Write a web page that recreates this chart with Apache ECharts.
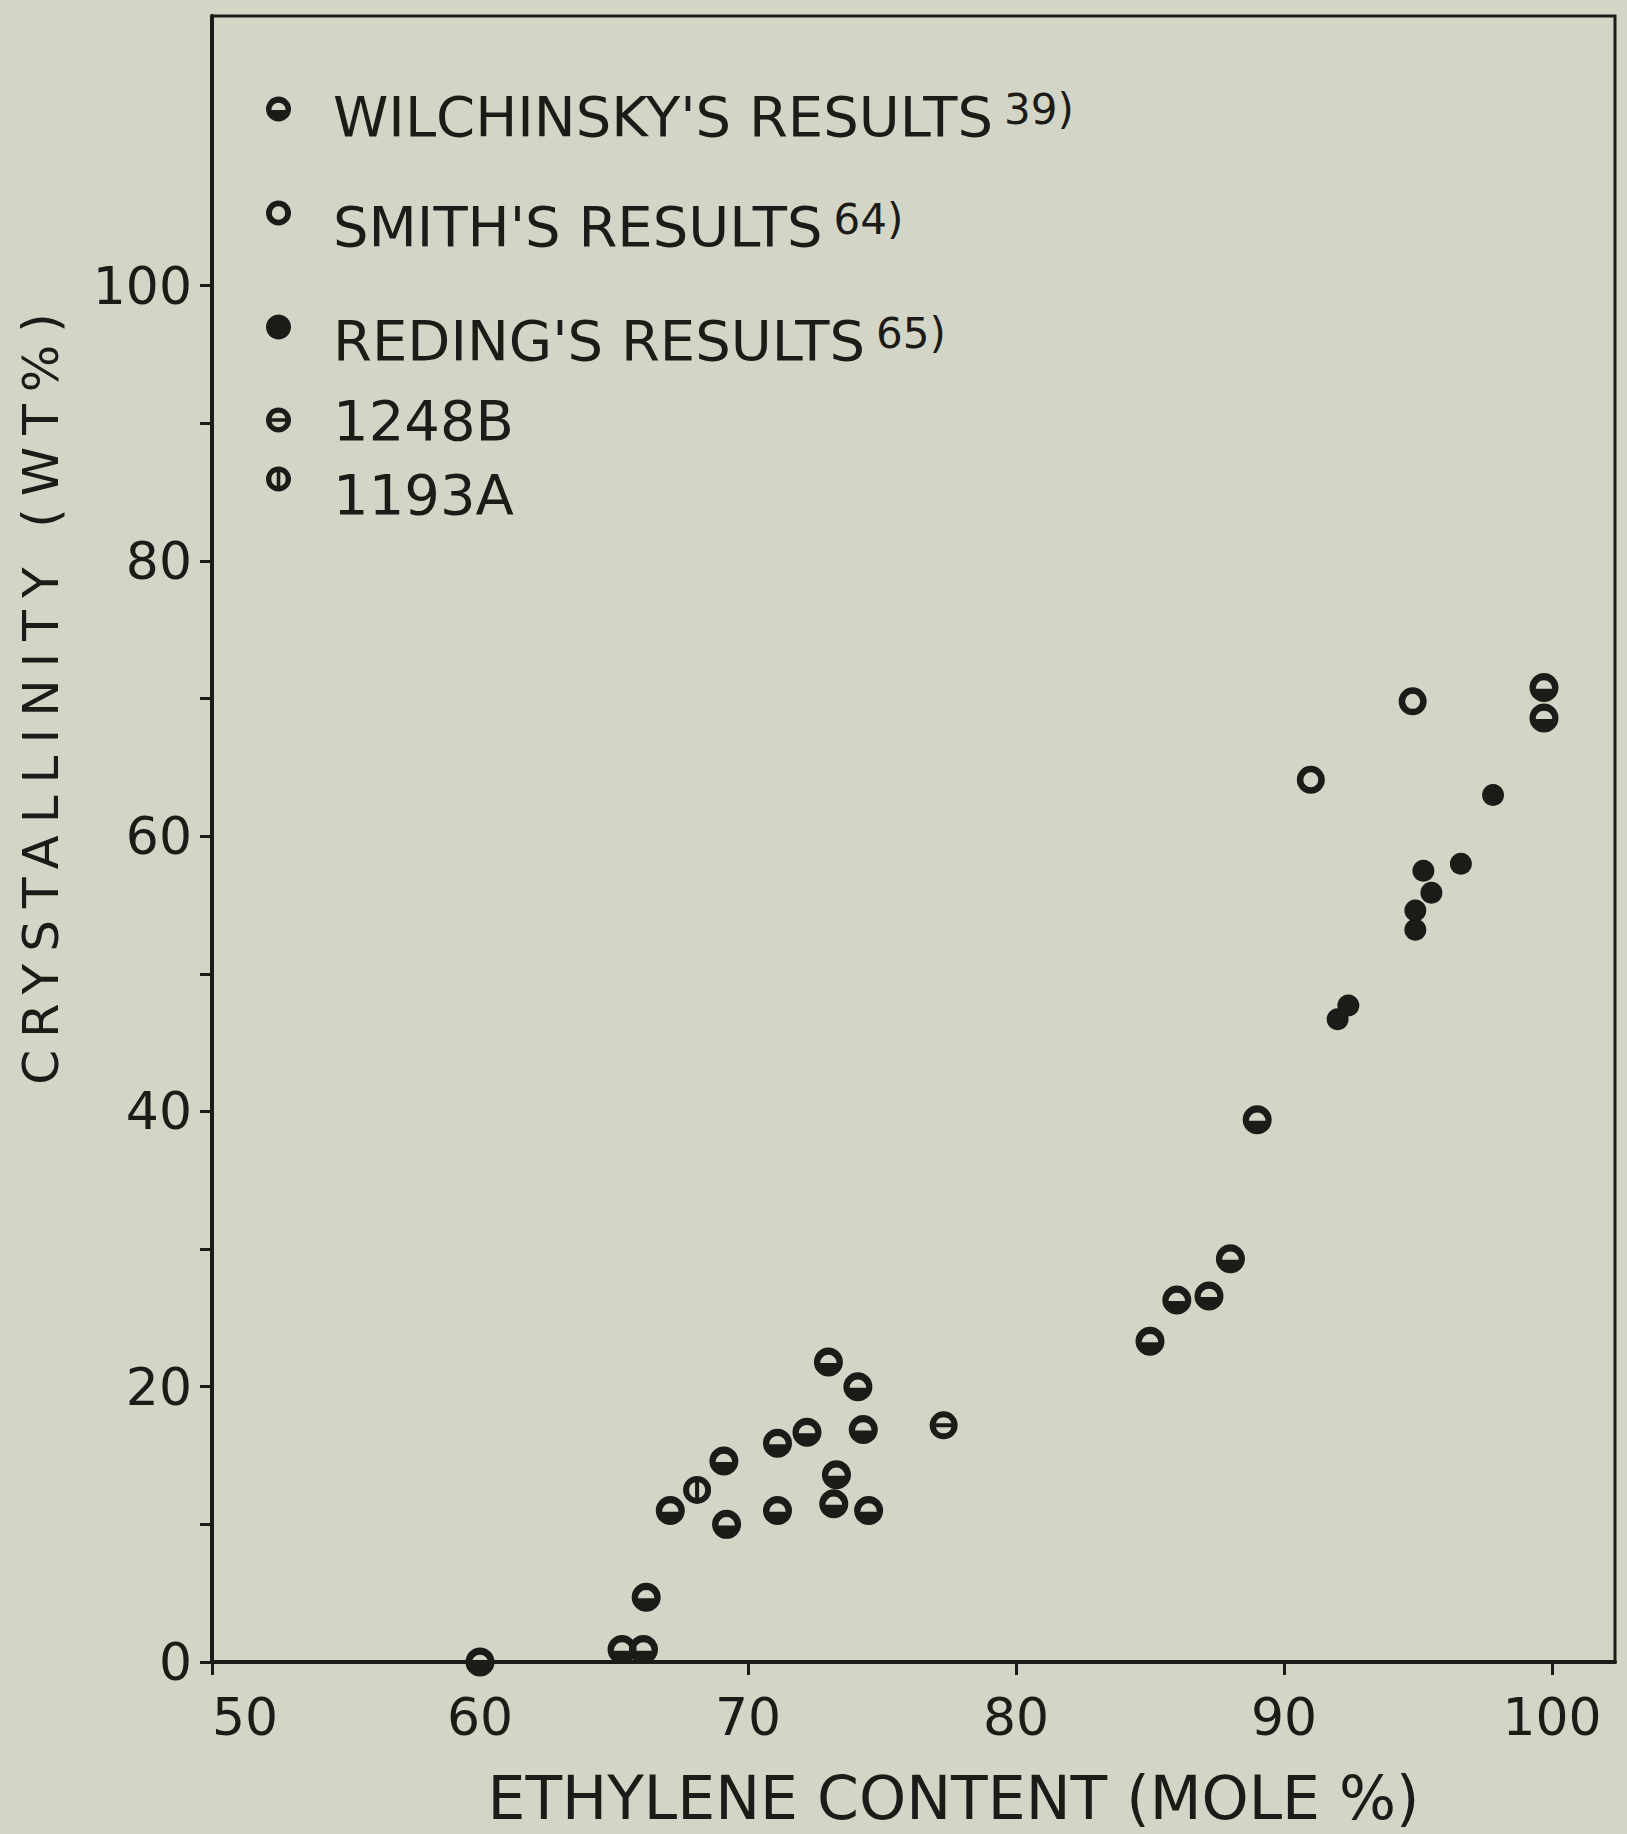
<!DOCTYPE html>
<html>
<head>
<meta charset="utf-8">
<script src="https://cdn.jsdelivr.net/npm/echarts@6/dist/echarts.min.js"></script>
<style>
  html, body { margin: 0; padding: 0; background: #d3d6c6; }
  #chart { width: 1627px; height: 1834px; }
  /* the vertical axis title is letter-spaced; its font list carries the "Spaced" tag */
  #chart text[style*="Spaced"], #chart text[font-family*="Spaced"] { letter-spacing: 12px; }
</style>
</head>
<body>
<div id="chart"></div>
<script>
// Axis ticks and labels
const xTicks = [50, 60, 70, 80, 90, 100];
const yTicks = [0, 10, 20, 30, 40, 50, 60, 70, 80, 90, 100];
const yLabels = [0, 20, 40, 60, 80, 100];

// Series names and their reference numbers
const seriesNames = ["WILCHINSKY'S RESULTS", "SMITH'S RESULTS", "REDING'S RESULTS", "1248B", "1193A"];
const seriesRefs = ["39)", "64)", "65)", "", ""];

// [ethylene content (mole %), crystallinity (wt %)]
const wilchinsky = [
  [60.0, 0.0], [65.3, 0.9], [66.1, 0.9], [66.2, 4.7], [67.1, 11.0],
  [69.1, 14.6], [69.2, 10.0], [71.1, 15.9], [71.1, 11.0], [72.2, 16.7],
  [73.0, 21.8], [74.1, 20.0], [74.3, 16.9], [73.3, 13.6], [73.2, 11.5],
  [74.5, 11.0], [85.0, 23.3], [86.0, 26.3], [87.2, 26.6], [88.0, 29.3],
  [89.0, 39.4], [99.7, 70.8], [99.7, 68.6]
];
const smith = [[91.0, 64.1], [94.8, 69.8]];
const reding = [
  [97.8, 63.0], [96.6, 58.0], [95.2, 57.5], [95.5, 55.9],
  [94.9, 54.6], [94.9, 53.2], [92.4, 47.7], [92.0, 46.7]
];
const sample1248B = [[77.3, 17.2]];
const sample1193A = [[68.1, 12.5]];

const INK = '#1c1b18';
const FONT = 'DejaVu Sans';

// Marker shapes: outer disc with holes cut by opposite winding
const OUTER = 'M-14,0A14,14,0,1,1,14,0A14,14,0,1,1,-14,0Z';
const SYM_HALF = 'path://' + OUTER + 'M-8,1L8,1A8,8,0,0,0,-8,1Z';
const SYM_RING = 'path://' + OUTER + 'M-7.5,0A7.5,7.5,0,1,0,7.5,0A7.5,7.5,0,1,0,-7.5,0Z';
const SYM_HBAR = 'path://' + OUTER + 'M-7.75,-2L7.75,-2A8,8,0,0,0,-7.75,-2Z' + 'M7.75,2L-7.75,2A8,8,0,0,0,7.75,2Z';
const SYM_VBAR = 'path://' + OUTER + 'M-2,7.75L-2,-7.75A8,8,0,0,0,-2,7.75Z' + 'M2,7.75A8,8,0,0,0,2,-7.75L2,7.75Z';

const seriesData = [wilchinsky, smith, reding, sample1248B, sample1193A];
const symbols = [SYM_HALF, SYM_RING, 'circle', SYM_HBAR, SYM_VBAR];
const symbolSizes = [29, 28, 22, 28, 28];
const legendTops = [88, 198, 312, 392, 466];
const legendTextDrop = [14, 26, 26, 0, 30];

const chart = echarts.init(document.getElementById('chart'), null, { renderer: 'svg' });

const legends = seriesNames.map((name, i) => ({
  data: [name],
  selectedMode: false,
  orient: 'vertical',
  left: 266,
  top: legendTops[i],
  padding: 0,
  itemWidth: 25,
  itemHeight: 25,
  icon: symbols[i],
  itemStyle: { color: INK },
  formatter: n => seriesRefs[i] ? '{m|' + n + '}{s|' + seriesRefs[i] + '}' : n,
  textStyle: {
    fontFamily: FONT,
    fontSize: 56,
    color: INK,
    padding: [legendTextDrop[i], 0, 0, 37],
    rich: {
      m: { fontFamily: FONT, fontSize: 56, color: INK },
      s: { fontFamily: FONT, fontSize: 42, color: INK, verticalAlign: 'top', padding: [0, 0, 0, 11] }
    }
  }
}));

const series = seriesNames.map((name, i) => ({
  name: name,
  type: 'scatter',
  data: seriesData[i],
  symbol: symbols[i],
  symbolSize: symbolSizes[i],
  clip: false,
  itemStyle: { color: INK, opacity: 1 },
  emphasis: { disabled: true }
}));

chart.setOption({
  backgroundColor: '#d3d6c6',
  animation: false,
  textStyle: { fontFamily: FONT, color: INK },
  grid: {
    left: 212, right: 12, top: 16, bottom: 172,
    show: true, borderColor: INK, borderWidth: 3, backgroundColor: 'transparent'
  },
  legend: legends,
  xAxis: {
    type: 'value',
    min: 50,
    max: 102.35,
    splitLine: { show: false },
    axisLine: { show: true, onZero: false, lineStyle: { color: INK, width: 4 } },
    axisTick: { show: true, customValues: xTicks, length: 13, lineStyle: { color: INK, width: 3 } },
    axisLabel: { customValues: xTicks, fontSize: 52, margin: 29, color: INK, fontFamily: FONT, alignMinLabel: 'left' },
    name: 'ETHYLENE CONTENT (MOLE %)',
    nameLocation: 'middle',
    nameGap: 106,
    nameTextStyle: { fontSize: 60, color: INK, fontFamily: FONT, padding: [0, 0, 0, 80] }
  },
  yAxis: {
    type: 'value',
    min: 0,
    max: 119.6,
    splitLine: { show: false },
    axisLine: { show: true, onZero: false, lineStyle: { color: INK, width: 4 } },
    axisTick: { show: true, customValues: yTicks, length: 12, lineStyle: { color: INK, width: 3 } },
    axisLabel: { customValues: yLabels, fontSize: 52, margin: 20, color: INK, fontFamily: FONT },
    name: 'CRYSTALLINITY (WT%)',
    nameLocation: 'middle',
    nameGap: 146,
    nameTextStyle: { fontSize: 50, color: INK, fontFamily: FONT + ', Spaced', padding: [0, 0, 0, 292] }
  },
  series: series
});
</script>
</body>
</html>
